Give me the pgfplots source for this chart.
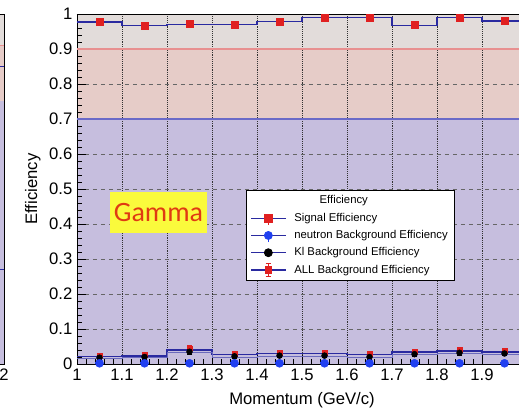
\documentclass[border=0pt]{standalone}
\usepackage{fontspec}
\setmainfont{Liberation Sans}
\newfontfamily\carlito{Carlito}
\usepackage{pgfplots}
\pgfplotsset{compat=1.18}
\definecolor{bandtop}{HTML}{E2DCDA}
\definecolor{bandmid}{HTML}{E6CCC8}
\definecolor{bandlow}{HTML}{C6BEDE}
\definecolor{histblue}{HTML}{2A2AA0}
\definecolor{linered}{HTML}{E89090}
\definecolor{lineblue}{HTML}{6A6AC8}
\definecolor{sigred}{HTML}{E02020}
\definecolor{nblue}{HTML}{2040F0}
\definecolor{gammatext}{HTML}{E03A12}
\definecolor{gammabox}{HTML}{FAFA3C}
\begin{document}
\begin{tikzpicture}
% ---- neighbouring panel (only its right edge is visible) ----
\begin{axis}[at={(-54.75pt,0pt)}, anchor=south east, scale only axis,
  width=337.5pt, height=262.5pt, xmin=1, xmax=2, ymin=0, ymax=1,
  xtick={2}, ytick=\empty, tick align=inside, set layers,
  axis line style={line width=0.7pt},
  ticklabel style={font=\fontsize{12.5}{14}\selectfont},
  /pgf/number format/assume math mode=true]
\addplot[on layer=axis background, fill=bandtop, draw=none, forget plot] coordinates {(1,1) (2,1)} \closedcycle;
\addplot[on layer=axis background, fill=bandmid, draw=none, forget plot] coordinates {(1,0.91) (2,0.91)} \closedcycle;
\addplot[on layer=axis background, fill=bandlow, draw=none, forget plot] coordinates {(1,0.75) (2,0.75)} \closedcycle;
\addplot[linered, line width=0.8pt] coordinates {(1,0.91) (2,0.91)};
\addplot[const plot, histblue, line width=0.9pt] coordinates {(1.9,0.85) (2,0.85)};
\addplot[const plot, histblue, line width=0.9pt] coordinates {(1.9,0.27) (2,0.27)};
\end{axis}
% ---- main panel ----
\begin{axis}[scale only axis, width=337.5pt, height=262.5pt,
  xmin=1, xmax=2, ymin=0, ymax=1,
  xtick={1,1.1,1.2,1.3,1.4,1.5,1.6,1.7,1.8,1.9},
  ytick={0,0.1,0.2,0.3,0.4,0.5,0.6,0.7,0.8,0.9,1},
  minor x tick num=4, minor y tick num=4,
  tick align=inside, xtick pos=left, ytick pos=left,
  major tick length=7pt, minor tick length=3.5pt,
  tick style={black, line width=0.6pt},
  grid=major,
  x grid style={densely dotted, black!80, line width=0.5pt},
  y grid style={dash pattern=on 3pt off 3pt, black!60, line width=0.5pt},
  set layers,
  axis line style={line width=0.7pt},
  ticklabel style={font=\fontsize{12.5}{14}\selectfont},
  /pgf/number format/assume math mode=true,
  xlabel={Momentum (GeV/c)}, ylabel={Efficiency},
  label style={font=\fontsize{12.5}{14}\selectfont},
  xlabel style={at={(axis description cs:0.5,-0.103)}, anchor=center},
  ylabel style={at={(axis description cs:-0.098,0.5)}, anchor=center},
  legend style={at={(axis description cs:0.3756,0.497)}, anchor=north west,
    font=\fontsize{8.5}{10}\selectfont, draw=black, line width=0.6pt, fill=white,
    row sep=1.3pt, inner xsep=3pt, inner ysep=2pt,
    /tikz/every odd column/.append style={column sep=4pt}},
  legend cell align=left,
]
% background bands
\addplot[on layer=axis background, fill=bandtop, draw=none, forget plot] coordinates {(1,1) (2,1)} \closedcycle;
\addplot[on layer=axis background, fill=bandmid, draw=none, forget plot] coordinates {(1,0.9) (2,0.9)} \closedcycle;
\addplot[on layer=axis background, fill=bandlow, draw=none, forget plot] coordinates {(1,0.7) (2,0.7)} \closedcycle;
\addplot[linered, line width=0.8pt, forget plot] coordinates {(1,0.9) (2,0.9)};
\addplot[lineblue, line width=1.3pt, forget plot] coordinates {(1,0.7) (2,0.7)};

% legend
\addlegendimage{empty legend}
\addlegendentry{\hspace*{19pt}Efficiency}
\addlegendimage{legend image code/.code={
  \draw[histblue, line width=0.9pt] (0pt,0pt) -- (26pt,0pt);
  \draw[sigred, line width=0.6pt] (13pt,-5pt) -- (13pt,0pt);
  \fill[sigred] (10pt,-3pt) rectangle (16pt,3pt);}}
\addlegendentry{Signal Efficiency}
\addlegendimage{legend image code/.code={
  \draw[histblue, line width=0.9pt] (0pt,0pt) -- (26pt,0pt);
  \draw[nblue, line width=0.6pt] (13pt,-5pt) -- (13pt,0pt);
  \fill[nblue] (13pt,0pt) circle (3pt);}}
\addlegendentry{neutron Background Efficiency}
\addlegendimage{legend image code/.code={
  \draw[histblue, line width=0.9pt] (0pt,0pt) -- (26pt,0pt);
  \fill[black] (13pt,0pt) circle (3pt);}}
\addlegendentry{Kl Background Efficiency}
\addlegendimage{legend image code/.code={
  \draw[histblue, line width=0.9pt] (0pt,0pt) -- (26pt,0pt);
  \draw[sigred, line width=0.6pt] (13pt,-5pt) -- (13pt,5pt);
  \draw[sigred, line width=0.6pt] (11pt,-5pt) -- (15pt,-5pt);
  \draw[sigred, line width=0.6pt] (11pt,5pt) -- (15pt,5pt);
  \fill[sigred] (10.5pt,-2.5pt) rectangle (15.5pt,2.5pt);}}
\addlegendentry{ALL Background Efficiency}

% signal histogram
\addplot[const plot, histblue, line width=0.9pt, forget plot] coordinates {
 (1.0,0.977) (1.1,0.966) (1.2,0.971) (1.3,0.969) (1.4,0.978)
 (1.5,0.990) (1.6,0.989) (1.7,0.968) (1.8,0.990) (1.9,0.980) (2.0,0.980)};
\addplot[only marks, mark=square*, mark size=2.6pt, sigred, forget plot,
  error bars/.cd, y dir=both, y explicit, error bar style={sigred, line width=0.6pt}] coordinates {
 (1.05,0.977) +- (0,0.005) (1.15,0.966) +- (0,0.005) (1.25,0.971) +- (0,0.005)
 (1.35,0.969) +- (0,0.005) (1.45,0.978) +- (0,0.005) (1.55,0.990) +- (0,0.005)
 (1.65,0.989) +- (0,0.005) (1.75,0.968) +- (0,0.005) (1.85,0.990) +- (0,0.005)
 (1.95,0.980) +- (0,0.005)};

% ALL background histogram
\addplot[const plot, histblue, line width=0.9pt, forget plot] coordinates {
 (1.0,0.021) (1.1,0.023) (1.2,0.040) (1.3,0.027) (1.4,0.030)
 (1.5,0.030) (1.6,0.026) (1.7,0.034) (1.8,0.037) (1.9,0.034) (2.0,0.034)};
% Kl background histogram
\addplot[const plot, histblue!70, line width=0.6pt, forget plot] coordinates {
 (1.0,0.016) (1.1,0.018) (1.2,0.033) (1.3,0.020) (1.4,0.022)
 (1.5,0.022) (1.6,0.018) (1.7,0.026) (1.8,0.030) (1.9,0.026) (2.0,0.026)};
% ALL markers
\addplot[only marks, mark=square*, mark size=1.8pt, sigred, forget plot,
  error bars/.cd, y dir=both, y explicit, error bar style={sigred, line width=0.6pt}] coordinates {
 (1.05,0.025) +- (0,0.007) (1.15,0.027) +- (0,0.007) (1.25,0.045) +- (0,0.008)
 (1.35,0.030) +- (0,0.007) (1.45,0.032) +- (0,0.007) (1.55,0.033) +- (0,0.007)
 (1.65,0.030) +- (0,0.007) (1.75,0.036) +- (0,0.007) (1.85,0.040) +- (0,0.007)
 (1.95,0.038) +- (0,0.007)};
% Kl markers
\addplot[only marks, mark=*, mark size=2.2pt, black, forget plot,
  error bars/.cd, y dir=both, y explicit, error bar style={black, line width=0.6pt}] coordinates {
 (1.05,0.018) +- (0,0.006) (1.15,0.020) +- (0,0.006) (1.25,0.035) +- (0,0.007)
 (1.35,0.022) +- (0,0.006) (1.45,0.024) +- (0,0.006) (1.55,0.024) +- (0,0.006)
 (1.65,0.020) +- (0,0.006) (1.75,0.028) +- (0,0.006) (1.85,0.032) +- (0,0.006)
 (1.95,0.030) +- (0,0.006)};
% neutron markers
\addplot[only marks, mark=*, mark size=3pt, nblue, forget plot,
  error bars/.cd, y dir=both, y explicit, error bar style={nblue, line width=0.6pt}] coordinates {
 (1.05,0.002) +- (0,0.004) (1.15,0.002) +- (0,0.004) (1.25,0.002) +- (0,0.004)
 (1.35,0.002) +- (0,0.004) (1.45,0.002) +- (0,0.004) (1.55,0.002) +- (0,0.004)
 (1.65,0.002) +- (0,0.004) (1.75,0.002) +- (0,0.004) (1.85,0.002) +- (0,0.004)
 (1.95,0.002) +- (0,0.004)};

\node[fill=gammabox, text=gammatext, font=\carlito\fontsize{21}{24}\selectfont,
  minimum width=72.75pt, minimum height=30.75pt, inner sep=0pt]
  at (axis cs:1.181,0.433) {Gamma};
\end{axis}
\pgfresetboundingbox
\path[use as bounding box] (-57.75pt,-36.75pt) rectangle (331.5pt,273pt);
\end{tikzpicture}
\end{document}
